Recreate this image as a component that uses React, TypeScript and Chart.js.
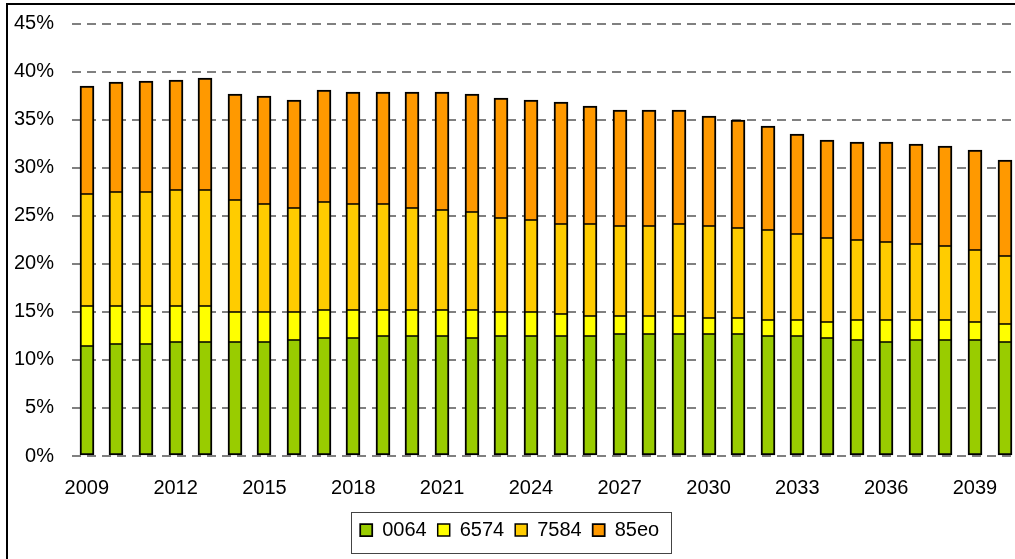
import React, { useEffect, useRef } from "react";
import { Chart, registerables } from "chart.js";

Chart.register(...registerables);

const years: string[] = [
  "2009", "2010", "2011", "2012", "2013", "2014", "2015", "2016",
  "2017", "2018", "2019", "2020", "2021", "2022", "2023", "2024",
  "2025", "2026", "2027", "2028", "2029", "2030", "2031", "2032",
  "2033", "2034", "2035", "2036", "2037", "2038", "2039", "2040",
];

const s0064: number[] = [
  11.45, 11.65, 11.65, 11.85, 11.85, 11.85, 11.85, 12.05,
  12.3, 12.3, 12.5, 12.5, 12.5, 12.3, 12.5, 12.5,
  12.5, 12.5, 12.7, 12.7, 12.7, 12.7, 12.7, 12.5,
  12.5, 12.3, 12.05, 11.85, 12.05, 12.05, 12.05, 11.85,
];
const s6574: number[] = [
  4.15, 3.95, 3.95, 3.75, 3.75, 3.15, 3.15, 2.95,
  2.9, 2.9, 2.7, 2.7, 2.7, 2.9, 2.5, 2.5,
  2.3, 2.1, 1.9, 1.9, 1.9, 1.65, 1.65, 1.65,
  1.65, 1.65, 2.1, 2.3, 2.1, 2.1, 1.9, 1.9,
];
const s7584: number[] = [
  11.7, 11.9, 11.9, 12.1, 12.1, 11.65, 11.2, 10.8,
  11.2, 11.0, 11.0, 10.6, 10.4, 10.2, 9.8, 9.6,
  9.35, 9.55, 9.3, 9.3, 9.55, 9.55, 9.35, 9.35,
  8.95, 8.75, 8.35, 8.15, 7.9, 7.7, 7.45, 7.05,
];
const s85eo: number[] = [
  11.2, 11.45, 11.5, 11.4, 11.65, 11.05, 11.3, 11.25,
  11.7, 11.7, 11.7, 12.1, 12.3, 12.3, 12.5, 12.45,
  12.7, 12.25, 12.1, 12.1, 11.85, 11.5, 11.25, 10.85,
  10.4, 10.2, 10.2, 10.4, 10.45, 10.45, 10.45, 10.0,
];

const seriesNames: string[] = ["0064", "6574", "7584", "85eo"];
const seriesColors: string[] = ["#99CC00", "#FFFF00", "#FFCC00", "#FF9900"];
const yTicks: number[] = [0, 5, 10, 15, 20, 25, 30, 35, 40, 45];

const FONT = '"Liberation Sans", Arial, sans-serif';

const legendBoxPlugin = {
  id: "legendBox",
  afterDraw(chart: any) {
    const lg = chart.legend;
    if (!lg || !lg.legendHitBoxes || !lg.legendHitBoxes.length) return;
    const hb = lg.legendHitBoxes;
    const first = hb[0];
    const last = hb[hb.length - 1];
    const left = first.left - 9;
    const right = last.left + last.width + 12;
    const top = first.top - 8;
    const bottom = first.top + first.height + 13;
    const ctx = chart.ctx;
    ctx.save();
    ctx.strokeStyle = "#444";
    ctx.lineWidth = 1;
    ctx.strokeRect(Math.round(left) + 0.5, Math.round(top) + 0.5, Math.round(right - left), Math.round(bottom - top));
    ctx.restore();
  },
};

const snapBarsPlugin = {
  id: "snapBars",
  beforeDatasetsDraw(chart: any) {
    chart.data.datasets.forEach((_d: any, i: number) => {
      const meta = chart.getDatasetMeta(i);
      meta.data.forEach((el: any) => {
        el.x = Math.round(el.x);
        el.y = Math.round(el.y);
        el.base = Math.round(el.base);
      });
    });
  },
};

export default function App() {
  const ref = useRef<HTMLCanvasElement | null>(null);

  useEffect(() => {
    if (!ref.current) return;
    const values = [s0064, s6574, s7584, s85eo];
    const borders = [
      { top: 1, bottom: 2, left: 2, right: 2 },
      { top: 1, bottom: 1, left: 2, right: 2 },
      { top: 1, bottom: 1, left: 2, right: 2 },
      { top: 2, bottom: 1, left: 2, right: 2 },
    ];
    const chart = new Chart(ref.current, {
      type: "bar",
      data: {
        labels: years,
        datasets: seriesNames.map((name, i) => ({
          label: name,
          data: values[i],
          backgroundColor: seriesColors[i],
          borderColor: "#000",
          borderWidth: borders[i] as any,
          borderSkipped: false as any,
          barThickness: 14,
        })),
      },
      plugins: [legendBoxPlugin, snapBarsPlugin],
      options: {
        responsive: false,
        animation: false,
        devicePixelRatio: 1,
        layout: { padding: { top: 23.7, right: 10.6, bottom: 9, left: 0 } },
        font: { family: FONT, size: 20 },
        plugins: {
          tooltip: { enabled: false },
          legend: {
            position: "bottom",
            labels: {
              boxWidth: 12,
              boxHeight: 12,
              padding: 11,
              color: "#000",
              font: { family: FONT, size: 20 },
            },
          },
        },
        scales: {
          x: {
            stacked: true,
            grid: { display: false, drawTicks: false },
            border: { display: false },
            ticks: {
              autoSkip: false,
              maxRotation: 0,
              padding: 20,
              color: "#000",
              font: { family: FONT, size: 20 },
              callback: (_v: any, idx: number) => (idx % 3 === 0 ? years[idx] : ""),
            },
            afterFit: (scale: any) => {
              scale.height = 53;
              scale.paddingLeft = 0;
              scale.paddingRight = 0;
            },
          },
          y: {
            stacked: true,
            min: 0,
            max: 45,
            afterBuildTicks: (scale: any) => {
              scale.ticks = yTicks.map((v) => ({ value: v }));
            },
            grid: {
              color: "#808080",
              lineWidth: 2,
              drawTicks: false,
            },
            border: { display: false, dash: [9, 6] },
            ticks: {
              padding: 18,
              color: "#000",
              font: { family: FONT, size: 20 },
              callback: (v: any) => v + "%",
            },
            afterFit: (scale: any) => {
              scale.width = 72;
              scale.paddingTop = 0;
              scale.paddingBottom = 0;
            },
          },
        },
      },
    });
    return () => chart.destroy();
  }, []);

  return (
    <div
      style={{
        position: "fixed",
        left: 0,
        top: 0,
        width: 1015,
        height: 559,
        overflow: "hidden",
        background: "#fff",
      }}
    >
      <canvas
        ref={ref}
        width={1030}
        height={559}
        style={{ position: "absolute", left: 0, top: 0, width: 1030, height: 559 }}
      />
      <div
        style={{
          position: "absolute",
          left: 6,
          top: 3,
          width: 1100,
          height: 600,
          border: "2px solid #000",
          pointerEvents: "none",
        }}
      />
    </div>
  );
}
